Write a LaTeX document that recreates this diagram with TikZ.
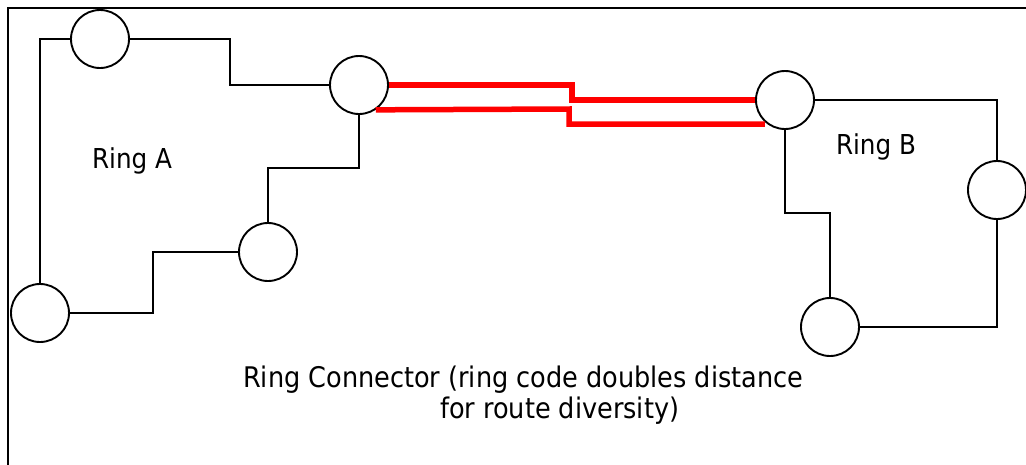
\documentclass[tikz,border=0pt]{standalone}
\usepackage{fontspec}
\setmainfont{DejaVu Sans Condensed}
\begin{document}
\begin{tikzpicture}[x=1pt,y=-1pt,
  ringnode/.style={circle,draw,line width=1.9pt,minimum size=58pt,inner sep=0pt},
  link/.style={line width=1.9pt},
  redline/.style={line width=5.5pt,red},
  frame/.style={line width=1.9pt},
  ringlabel/.style={anchor=base,inner sep=0pt,font=\fontsize{27.4}{33}\selectfont},
  notelabel/.style={anchor=base west,inner sep=0pt,font=\fontsize{28.4}{34}\selectfont}]
\useasboundingbox (0,0) rectangle (1026,464);
\clip (0,0) rectangle (1026,464);
\fill[white] (0,0) rectangle (1026,464);
\draw[frame] (1040,8) -- (8,8) -- (8,480);
% Ring A
\node[ringnode] (A1) at (100,39) {};
\node[ringnode] (A2) at (359,85) {};
\node[ringnode] (A3) at (268,252) {};
\node[ringnode] (A4) at (40,313) {};
% Ring B
\node[ringnode] (B1) at (785,100) {};
\node[ringnode] (B2) at (997,190) {};
\node[ringnode] (B3) at (830,327) {};
% ring A links
\draw[link] (A1.west) -| (A4.north);
\draw[link] (A1.east) -- ++(100,0) |- (A2.west);
\draw[link] (A2.south) -- ++(0,53) -| (A3.north);
\draw[link] (A3.west) -- ++(-85,0) |- (A4.east);
% ring B links
\draw[link] (B1.east) -| (B2.north);
\draw[link] (B2.south) |- (B3.east);
\draw[link] (B3.north) -- ++(0,-84) -| (B1.south);
% ring connector
\coordinate (rb1) at (569,109);
\coordinate (rb2) at (569,124);
\draw[redline] (A2.east) -- ++(183,0) |- (B1.west);
\draw[redline] (A2.-56) -- (rb1) -- (rb2) -- (B1.-132 |- rb2);
% labels
\node[ringlabel] (la) at (132,168) {Ring A};
\node[ringlabel] (lb) at (876,154) {Ring B};
\node[notelabel] (n1) at (243,387) {Ring Connector (ring code doubles distance};
\node[notelabel] (n2) at (440,418) {for route diversity)};
\end{tikzpicture}
\end{document}
